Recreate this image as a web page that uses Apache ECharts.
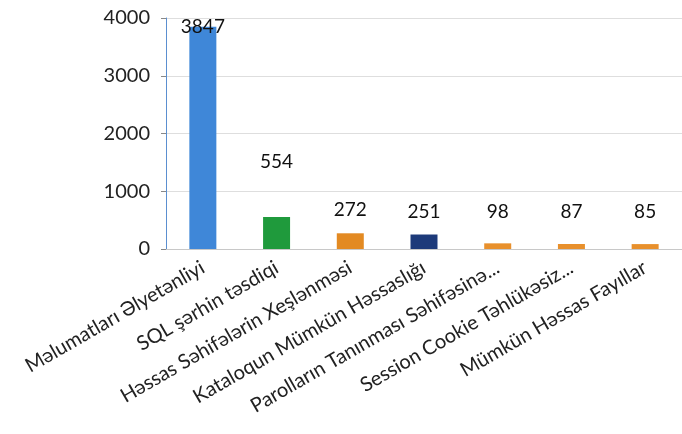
<!DOCTYPE html>
<html>
<head>
<meta charset="utf-8">
<script src="https://cdn.jsdelivr.net/npm/echarts@6/dist/echarts.min.js"></script>
<style>
    html, body { margin: 0; padding: 0; background: #ffffff; }
    #divChart { width: 682px; height: 434px; }
</style>
</head>
<body>
<div id="divChart"></div>
<script>
var categories = ['Məlumatları Əlyetənliyi', 'SQL şərhin təsdiqi', 'Həssas Səhifələrin Xeşlənməsi',
    'Kataloqun Mümkün Həssaslığı', 'Parolların Tanınması Səhifəsinə...', 'Session Cookie Təhlükəsiz...',
    'Mümkün Həssas Fayıllar'];
var values = [3847, 554, 272, 251, 98, 87, 85];
var barColors = ['#3f87d8', '#1f9a3c', '#e38a22', '#1d3a7a', '#e8902c', '#e8902c', '#e8902c'];
var labelShift = [15, -41, -9, -8, -17, -18, -18];//label placement as in the picture

var myChart = echarts.init(document.getElementById('divChart'));

function buildData() {
    var result = [];
    for (var i = 0; i < values.length; i++) {
        result.push({
            value: values[i],
            itemStyle: { color: barColors[i] },
            label: { offset: [0, labelShift[i]] }
        });
    }
    return result;
}

var font = 'Lato, "Open Sans", sans-serif';

var option = {
    animation: false,
    backgroundColor: '#ffffff',
    grid: { left: 166, right: 0, top: 18, bottom: 185 },
    xAxis: {
        type: 'category',
        data: categories,
        axisLine: { lineStyle: { color: '#c8c8c8' } },
        axisTick: { show: false },
        axisLabel: {
            rotate: 30,
            interval: 0,
            margin: 17,
            color: '#222',
            fontSize: 20,
            fontFamily: font
        }
    },
    yAxis: {
        type: 'value',
        min: 0,
        max: 4000,
        interval: 1000,
        axisLine: { show: true, lineStyle: { color: '#5b8fd0' } },
        axisTick: { show: true, length: 5, lineStyle: { color: '#888' } },
        splitLine: { lineStyle: { color: '#dedede' } },
        axisLabel: {
            margin: 16,
            color: '#222',
            fontSize: 20,
            fontFamily: font,
            formatter: function (v) { return String(v); }
        }
    },
    series: [{
        type: 'bar',
        barWidth: 27,
        data: buildData(),
        label: {
            show: true,
            position: 'top',
            color: '#111',
            fontSize: 19,
            fontFamily: font
        }
    }]
};
myChart.setOption(option);
</script>
</body>
</html>
